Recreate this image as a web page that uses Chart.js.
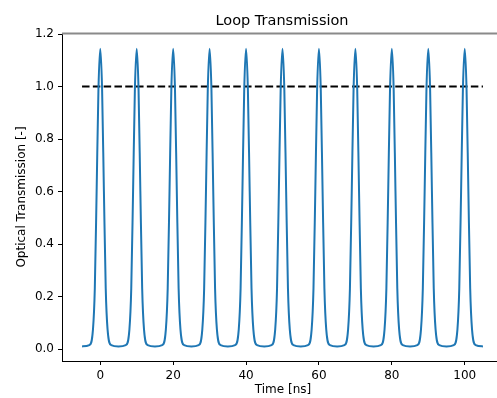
<!DOCTYPE html>
<html>
<head>
<meta charset="utf-8">
<script src="https://cdn.jsdelivr.net/npm/chart.js@4"></script>
<style>
  html, body { margin: 0; padding: 0; background: #fff; overflow: hidden; }
  #wrap { position: relative; width: 503px; height: 398px; }
</style>
</head>
<body>
<div id="wrap"><canvas id="loop"></canvas></div>
<script>
// time axis (ns) and optical transmission
const timeNs = [
  -5, -3, -2, -1.5, -1, -0.5, 0, 0.5, 1, 1.5, 2, 3,
  5, 7, 8, 8.5, 9, 9.5, 10, 10.5, 11, 11.5, 12, 13,
  15, 17, 18, 18.5, 19, 19.5, 20, 20.5, 21, 21.5, 22, 23,
  25, 27, 28, 28.5, 29, 29.5, 30, 30.5, 31, 31.5, 32, 33,
  35, 37, 38, 38.5, 39, 39.5, 40, 40.5, 41, 41.5, 42, 43,
  45, 47, 48, 48.5, 49, 49.5, 50, 50.5, 51, 51.5, 52, 53,
  55, 57, 58, 58.5, 59, 59.5, 60, 60.5, 61, 61.5, 62, 63,
  65, 67, 68, 68.5, 69, 69.5, 70, 70.5, 71, 71.5, 72, 73,
  75, 77, 78, 78.5, 79, 79.5, 80, 80.5, 81, 81.5, 82, 83,
  85, 87, 88, 88.5, 89, 89.5, 90, 90.5, 91, 91.5, 92, 93,
  95, 97, 98, 98.5, 99, 99.5, 100, 100.5, 101, 101.5, 102, 103,
  105
];
const transmission = [
  0.010, 0.015, 0.075, 0.23, 0.60, 0.99, 1.144, 0.99, 0.60, 0.23, 0.075, 0.015,
  0.010, 0.015, 0.075, 0.23, 0.60, 0.99, 1.144, 0.99, 0.60, 0.23, 0.075, 0.015,
  0.010, 0.015, 0.075, 0.23, 0.60, 0.99, 1.144, 0.99, 0.60, 0.23, 0.075, 0.015,
  0.010, 0.015, 0.075, 0.23, 0.60, 0.99, 1.144, 0.99, 0.60, 0.23, 0.075, 0.015,
  0.010, 0.015, 0.075, 0.23, 0.60, 0.99, 1.144, 0.99, 0.60, 0.23, 0.075, 0.015,
  0.010, 0.015, 0.075, 0.23, 0.60, 0.99, 1.144, 0.99, 0.60, 0.23, 0.075, 0.015,
  0.010, 0.015, 0.075, 0.23, 0.60, 0.99, 1.144, 0.99, 0.60, 0.23, 0.075, 0.015,
  0.010, 0.015, 0.075, 0.23, 0.60, 0.99, 1.144, 0.99, 0.60, 0.23, 0.075, 0.015,
  0.010, 0.015, 0.075, 0.23, 0.60, 0.99, 1.144, 0.99, 0.60, 0.23, 0.075, 0.015,
  0.010, 0.015, 0.075, 0.23, 0.60, 0.99, 1.144, 0.99, 0.60, 0.23, 0.075, 0.015,
  0.010, 0.015, 0.075, 0.23, 0.60, 0.99, 1.144, 0.99, 0.60, 0.23, 0.075, 0.015,
  0.010
];
// dashed reference level
const refTimes = [-5, 105];
const refLevel = [1.0, 1.0];

const xTicks = [0, 20, 40, 60, 80, 100];
const yTicks = [0.0, 0.2, 0.4, 0.6, 0.8, 1.0, 1.2];

const FONT = "'DejaVu Sans', sans-serif";

// title, axis labels and the grey top edge
const labels = {
  id: 'labels',
  afterDraw(chart) {
    const c = chart.ctx;
    const a = chart.chartArea;
    c.save();
    c.strokeStyle = '#8a8a8a';
    c.lineWidth = 2;
    c.beginPath();
    c.moveTo(a.left, 33.5);
    c.lineTo(a.right, 33.5);
    c.stroke();

    c.fillStyle = '#000';
    c.textAlign = 'center';
    c.textBaseline = 'alphabetic';
    c.font = '14.5px ' + FONT;
    c.fillText('Loop Transmission', 282, 25);
    c.font = '12px ' + FONT;
    c.fillText('Time [ns]', 283, 393);
    c.translate(22, 197);
    c.rotate(-Math.PI / 2);
    c.textBaseline = 'middle';
    c.fillText('Optical Transmission [-]', 0, 0);
    c.restore();
  }
};

new Chart(document.getElementById('loop'), {
  type: 'line',
  data: {
    datasets: [{
      data: timeNs.map((t, i) => ({ x: t, y: transmission[i] })),
      borderColor: '#1f77b4',
      borderWidth: 2,
      pointRadius: 0,
      cubicInterpolationMode: 'monotone',
      fill: false
    }, {
      data: refTimes.map((t, i) => ({ x: t, y: refLevel[i] })),
      borderColor: '#000',
      borderWidth: 2,
      borderDash: [7.5, 3.3],
      pointRadius: 0,
      fill: false
    }]
  },
  options: {
    animation: false,
    responsive: true,
    maintainAspectRatio: false,
    layout: { padding: { top: 34, left: 0, right: 0, bottom: 0 } },
    plugins: {
      legend: { display: false },
      tooltip: { enabled: false }
    },
    scales: {
      x: {
        type: 'linear',
        min: -10.5,
        max: 110.5,
        afterFit(s) { s.height = 37; },
        afterBuildTicks(s) { s.ticks = xTicks.map(v => ({ value: v })); },
        grid: { drawOnChartArea: false, drawTicks: true, tickLength: 4, tickColor: '#000' },
        border: { display: true, color: '#000', width: 1 },
        ticks: {
          color: '#000',
          padding: 4,
          maxRotation: 0,
          font: { family: FONT, size: 12 },
          callback: v => String(v)
        }
      },
      y: {
        type: 'linear',
        min: -0.0457,
        max: 1.2,
        afterFit(s) { s.width = 62; },
        afterBuildTicks(s) { s.ticks = yTicks.map(v => ({ value: v })); },
        grid: { drawOnChartArea: false, drawTicks: true, tickLength: 4, tickColor: '#000' },
        border: { display: true, color: '#000', width: 1 },
        ticks: {
          color: '#000',
          padding: 4,
          font: { family: FONT, size: 12 },
          callback: v => v.toFixed(1)
        }
      }
    }
  },
  plugins: [labels]
});
</script>
</body>
</html>
